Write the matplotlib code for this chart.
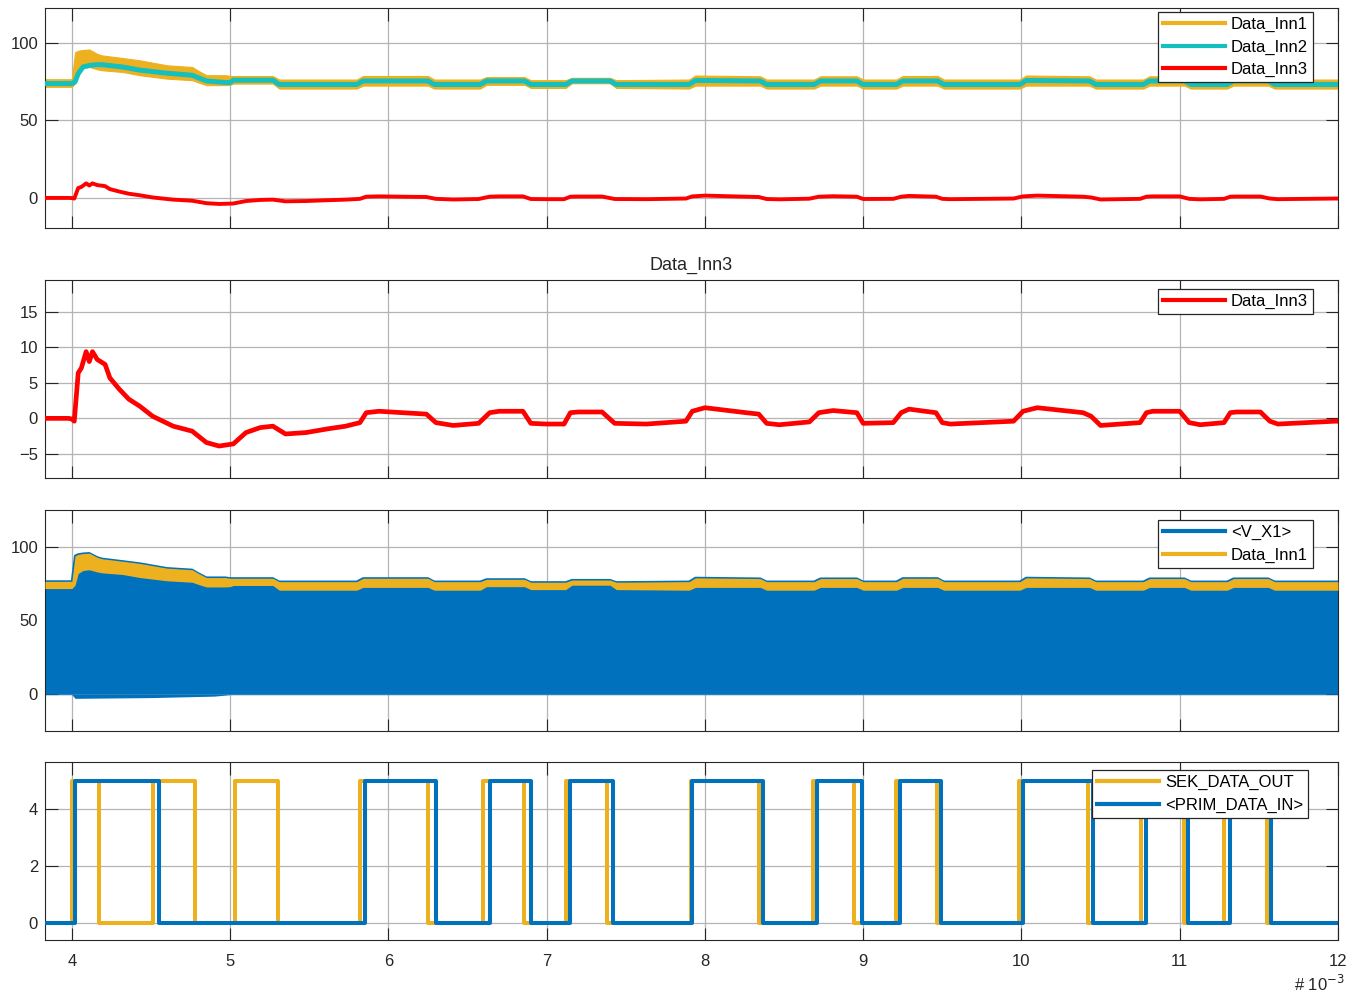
import matplotlib.pyplot as plt
from matplotlib.lines import Line2D

plt.rcParams['font.family'] = ['Liberation Sans', 'DejaVu Sans']
plt.rcParams['font.size'] = 12

ORANGE = '#EDB120'
CYAN = '#13BFBF'
RED = '#FF0000'
BLUE = '#0072BD'
AXCOL = '#262626'

# time in units of 1e-3 s
# Data_Inn3
inn3_t = [3.83, 3.98, 4.0, 4.015, 4.04, 4.06, 4.09, 4.11, 4.13, 4.16, 4.21, 4.24, 4.30, 4.36,
          4.43, 4.51, 4.64, 4.76, 4.85, 4.93, 5.02, 5.10, 5.19, 5.27, 5.35, 5.48, 5.61, 5.73,
          5.82, 5.86, 5.94, 6.24, 6.30, 6.41, 6.57, 6.64, 6.70, 6.85, 6.90, 7.0, 7.11, 7.15,
          7.2, 7.35, 7.43, 7.63, 7.88, 7.92, 8.0, 8.26, 8.34, 8.39, 8.47, 8.66, 8.72, 8.81,
          8.96, 9.0, 9.19, 9.24, 9.29, 9.46, 9.50, 9.55, 9.95, 10.01, 10.1, 10.39, 10.44, 10.50,
          10.75, 10.79, 10.83, 11.0, 11.06, 11.13, 11.28, 11.32, 11.36, 11.51, 11.57, 11.62,
          11.98, 12.0]
inn3_v = [0.0, 0.0, -0.1, -0.4, 6.4, 7.1, 9.4, 8.0, 9.4, 8.3, 7.6, 5.7, 4.1, 2.7,
          1.7, 0.3, -1.1, -1.8, -3.4, -3.9, -3.6, -2.0, -1.3, -1.1, -2.2, -2.0, -1.5, -1.1,
          -0.6, 0.8, 1.0, 0.6, -0.6, -1.0, -0.7, 0.8, 1.0, 1.0, -0.7, -0.8, -0.8, 0.8,
          0.9, 0.9, -0.7, -0.8, -0.4, 1.0, 1.5, 0.8, 0.6, -0.7, -0.9, -0.5, 0.8, 1.1,
          0.8, -0.7, -0.6, 0.8, 1.3, 0.8, -0.6, -0.8, -0.4, 1.0, 1.5, 0.8, 0.3, -1.0,
          -0.6, 0.8, 1.0, 1.0, -0.6, -0.9, -0.6, 0.8, 0.9, 0.9, -0.4, -0.8,
          -0.4, -0.4]

# Data_Inn2 (smooth) and Data_Inn1 ripple envelope (upper / lower)
inn12_t = [3.83, 4.0, 4.02, 4.04, 4.07, 4.11, 4.16, 4.19, 4.32, 4.43, 4.6, 4.76, 4.8, 4.85,
           4.97, 5.0, 5.02, 5.27, 5.31, 5.80, 5.84, 6.25, 6.29, 6.58, 6.62, 6.86, 6.90, 7.12,
           7.16, 7.40, 7.44, 7.90, 7.94, 8.35, 8.39, 8.69, 8.73, 8.96, 9.0, 9.21, 9.25, 9.47,
           9.51, 9.99, 10.03, 10.43, 10.47, 10.77, 10.81, 11.03, 11.07, 11.30, 11.34, 11.56,
           11.60, 12.0]
inn2_v = [73.8, 73.8, 75.0, 80.2, 84.5, 85.5, 86.0, 86.0, 84.5, 82.5, 80.5, 79.2, 77.5, 75.5,
          74.5, 74.5, 76.0, 76.0, 73.2, 73.2, 75.5, 75.5, 73.2, 73.2, 75.5, 75.5, 73.2, 73.2,
          75.5, 75.5, 73.2, 73.2, 75.8, 75.5, 73.2, 73.2, 75.5, 75.5, 73.2, 73.2, 75.5, 75.5,
          73.2, 73.2, 75.8, 75.5, 73.2, 73.2, 75.5, 75.5, 73.2, 73.2, 75.5, 75.5,
          73.2, 73.2]
inn1_hi = [76.6, 76.6, 94.0, 95.0, 95.5, 95.8, 93.0, 92.0, 90.3, 88.8, 85.6, 84.5, 82.0, 79.2,
           79.2, 78.7, 78.7, 78.7, 76.4, 76.4, 78.7, 78.7, 76.4, 76.4, 78.0, 78.0, 76.0, 76.0,
           77.5, 77.5, 76.0, 76.4, 79.0, 78.5, 76.4, 76.4, 78.5, 78.5, 76.4, 76.4, 78.7, 78.7,
           76.4, 76.4, 79.0, 78.5, 76.4, 76.4, 78.5, 78.5, 76.4, 76.4, 78.5, 78.5,
           76.4, 76.4]
inn1_lo = [71.7, 71.7, 74.0, 82.0, 84.0, 84.5, 83.0, 82.4, 81.3, 79.2, 77.0, 76.0, 74.5, 72.8,
           72.8, 73.0, 73.8, 73.8, 70.6, 70.6, 72.5, 72.5, 70.6, 70.6, 73.0, 73.0, 71.0, 71.0,
           74.0, 74.0, 71.0, 70.6, 72.5, 72.5, 70.6, 70.6, 72.5, 72.5, 70.6, 70.6, 72.5, 72.5,
           70.6, 70.6, 72.5, 72.5, 70.6, 70.6, 72.5, 72.5, 70.6, 70.6, 72.5, 72.5,
           70.6, 70.6]

# <V_X1>: dense switching between ~0 and the Inn1 level; lower envelope read here
vx1_t = [3.83, 4.0, 4.02, 4.5, 4.9, 5.0, 12.0]
vx1_lo = [-0.5, -0.5, -3.0, -2.5, -1.5, -0.5, -0.5]

# digital signals (step, post)
sek_t = [3.83, 4.00, 4.17, 4.51, 4.78, 5.03, 5.30, 5.82, 6.25, 6.60, 6.855, 7.12, 7.38,
         7.91, 8.34, 8.685, 8.94, 9.205, 9.465, 9.985, 10.42, 10.755, 11.025, 11.28, 11.55, 12.0]
sek_v = [0, 5, 0, 5, 0, 5, 0, 5, 0, 5, 0, 5, 0,
         5, 0, 5, 0, 5, 0, 5, 0, 5, 0, 5, 0, 0]
prim_t = [3.83, 4.02, 4.55, 5.85, 6.30, 6.64, 6.90, 7.15, 7.42, 7.92, 8.37, 8.71, 8.99,
          9.23, 9.49, 10.007, 10.45, 10.79, 11.055, 11.32, 11.58, 12.0]
prim_v = [0, 5, 0, 5, 0, 5, 0, 5, 0, 5, 0, 5, 0,
          5, 0, 5, 0, 5, 0, 5, 0, 0]

xticks = [4, 5, 6, 7, 8, 9, 10, 11, 12]

fig = plt.figure(figsize=(13.59, 9.96), dpi=100)
L, W = 0.0331, 0.9514
ax1 = fig.add_axes([L, 0.7711, W, 0.2209])
ax2 = fig.add_axes([L, 0.5201, W, 0.1988])
ax3 = fig.add_axes([L, 0.2661, W, 0.2219])
ax4 = fig.add_axes([L, 0.0562, W, 0.1787])


def style(ax, ylim, yticks, labels=False):
    ax.set_xlim(3.83, 12.0)
    ax.set_ylim(*ylim)
    ax.set_xticks(xticks)
    ax.set_yticks(yticks)
    ax.grid(True, color='#b4b4b4', lw=0.9)
    ax.set_axisbelow(True)
    ax.tick_params(direction='in', length=9, width=0.8, top=True, right=True,
                   colors=AXCOL, labelcolor=AXCOL, labelbottom=labels)
    ax.tick_params(axis='x', pad=10)
    ax.tick_params(axis='y', pad=5)
    for s in ax.spines.values():
        s.set_color(AXCOL)
        s.set_linewidth(0.8)


def legend(ax, handles, labels, anchor):
    lg = ax.legend(handles, labels, loc='upper right', bbox_to_anchor=anchor,
                   borderaxespad=0, fancybox=False, framealpha=1, edgecolor=AXCOL,
                   handlelength=3.7, handletextpad=0.35, labelspacing=0.45,
                   borderpad=0.3, fontsize=12)
    lg.get_frame().set_linewidth(0.9)
    lg.set_zorder(10)


# panel 1
ax1.fill_between(inn12_t, inn1_lo, inn1_hi, color=ORANGE, lw=0.8, edgecolor=ORANGE, zorder=2)
ax1.plot(inn12_t, inn2_v, color=CYAN, lw=3.6, zorder=3)
ax1.plot(inn3_t, inn3_v, color=RED, lw=2.8, zorder=4)
style(ax1, (-19.4, 122.6), [0, 50, 100])
legend(ax1, [Line2D([], [], color=c, lw=3) for c in (ORANGE, CYAN, RED)],
       ['Data_Inn1', 'Data_Inn2', 'Data_Inn3'], (0.9807, 0.982))

# panel 2
ax2.plot(inn3_t, inn3_v, color=RED, lw=3.4, zorder=3)
style(ax2, (-8.4, 19.5), [-5, 0, 5, 10, 15])
ax2.set_title('Data_Inn3', fontsize=13, color=AXCOL, pad=7)
legend(ax2, [Line2D([], [], color=RED, lw=3)], ['Data_Inn3'], (0.9807, 0.955))

# panel 3
ax3.fill_between(inn12_t, 0, inn1_hi, color=BLUE, lw=0, zorder=2)
ax3.fill_between(vx1_t, vx1_lo, 0, color=BLUE, lw=0, zorder=2)
ax3.plot(inn12_t, inn1_hi, color=BLUE, lw=1.6, zorder=2)
ax3.fill_between(inn12_t, inn1_lo, inn1_hi, color=ORANGE, lw=0, zorder=3)
style(ax3, (-25.2, 125.2), [0, 50, 100])
legend(ax3, [Line2D([], [], color=c, lw=3) for c in (BLUE, ORANGE)],
       ['<V_X1>', 'Data_Inn1'], (0.9807, 0.955))

# panel 4
ax4.step(sek_t, sek_v, where='post', color=ORANGE, lw=2.9, zorder=3)
ax4.step(prim_t, prim_v, where='post', color=BLUE, lw=2.9, zorder=4)
style(ax4, (-0.6, 5.65), [0, 2, 4], labels=True)
legend(ax4, [Line2D([], [], color=c, lw=3) for c in (ORANGE, BLUE)],
       ['SEK_DATA_OUT', '<PRIM_DATA_IN>'], (0.9768, 0.955))

fig.text(0.971, 0.002, '# 10$^{-3}$', ha='center', va='bottom', fontsize=12, color=AXCOL)

plt.savefig('out.png', dpi=100)
